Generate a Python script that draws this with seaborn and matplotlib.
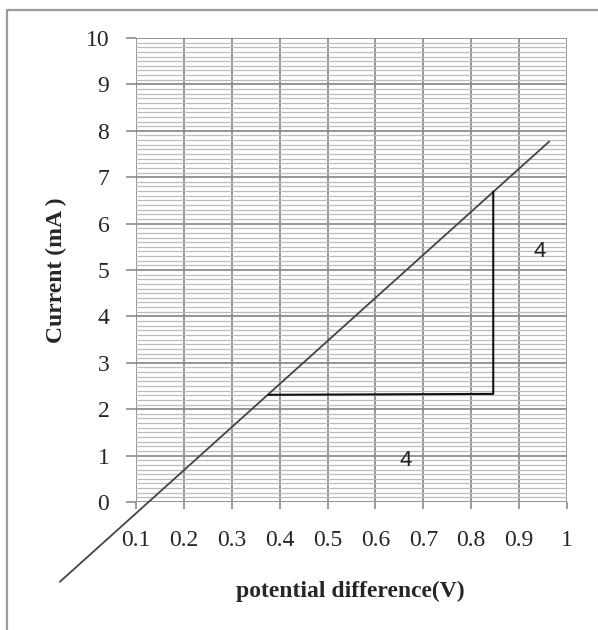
import matplotlib
matplotlib.use("Agg")
import matplotlib.pyplot as plt
from matplotlib.lines import Line2D
from matplotlib.ticker import MultipleLocator
import numpy as np
import pandas as pd
import seaborn as sns

# Best-fit line of current against potential difference (end points)
fit_voltage = [-0.059, 0.963]
fit_current = [-1.72, 7.77]

# Gradient triangle drawn under the line
tri_voltage = [0.376, 0.846, 0.846]
tri_current = [2.31, 2.33, 6.69]

# Side-length annotations of the triangle
note_text = ["4", "4"]
note_x = [0.663, 0.943]
note_y = [0.905, 5.39]

x_ticks = [0.1, 0.2, 0.3, 0.4, 0.5, 0.6, 0.7, 0.8, 0.9, 1.0]
x_tick_labels = ["0.1", "0.2", "0.3", "0.4", "0.5", "0.6", "0.7", "0.8", "0.9", "1"]
y_ticks = [0, 1, 2, 3, 4, 5, 6, 7, 8, 9, 10]

sns.set_style("white")
plt.rcParams["font.family"] = ["Liberation Serif", "DejaVu Serif"]

fig = plt.figure(figsize=(5.98, 6.30), dpi=100)
ax = fig.add_axes([136 / 598, (630 - 502) / 630, 431 / 598, 464 / 630])

fit_df = pd.DataFrame({"v": fit_voltage, "i": fit_current})
tri_df = pd.DataFrame({"v": tri_voltage, "i": tri_current})

sns.lineplot(data=fit_df, x="v", y="i", ax=ax, color="#444444", lw=1.3,
             estimator=None, sort=False, clip_on=False, zorder=5)
sns.lineplot(data=tri_df, x="v", y="i", ax=ax, color="#111111", lw=1.5,
             estimator=None, sort=False, zorder=5)

ax.set_xlim(0.1, 1.0)
ax.set_ylim(0, 10)
ax.set_xticks(x_ticks)
ax.set_xticklabels(x_tick_labels)
ax.set_yticks(y_ticks)
ax.yaxis.set_minor_locator(MultipleLocator(0.1))

ax.grid(which="major", axis="both", color="#8c8c8c", lw=1.3, zorder=0)
ax.grid(which="minor", axis="y", color="#bdbdbd", lw=0.9, zorder=0)
ax.set_axisbelow(True)
for s in ax.spines.values():
    s.set_visible(False)

ax.tick_params(axis="x", which="major", direction="out", length=5, width=1.2,
               color="#8c8c8c", pad=15, labelsize=17, bottom=True)
ax.tick_params(axis="y", which="major", direction="out", length=7.2, width=1.2,
               color="#8c8c8c", pad=12, labelsize=17, left=True)
ax.tick_params(which="minor", length=0)

for t, x, y in zip(note_text, note_x, note_y):
    ax.text(x, y, t, ha="center", va="center", fontsize=16,
            family=["Liberation Sans", "DejaVu Sans"], color="#222222")

ax.set_xlabel("potential difference(V)", fontsize=17, fontweight="bold", va="center")
ax.set_ylabel("Current (mA )", fontsize=17, fontweight="bold", va="center")
ax.xaxis.set_label_coords((350 - 136) / 431, -(591 - 502) / 464)
ax.yaxis.set_label_coords(-(136 - 56) / 431, (502 - 270) / 464)

# Chart-area frame
fig.add_artist(Line2D([7 / 598, 7 / 598], [-0.05, 1 - 10 / 630],
                      transform=fig.transFigure, color="#9a9a9a", lw=1.6))
fig.add_artist(Line2D([7 / 598, 1.05], [1 - 10 / 630, 1 - 10 / 630],
                      transform=fig.transFigure, color="#9a9a9a", lw=1.6))

fig.savefig("out.png", dpi=100)
